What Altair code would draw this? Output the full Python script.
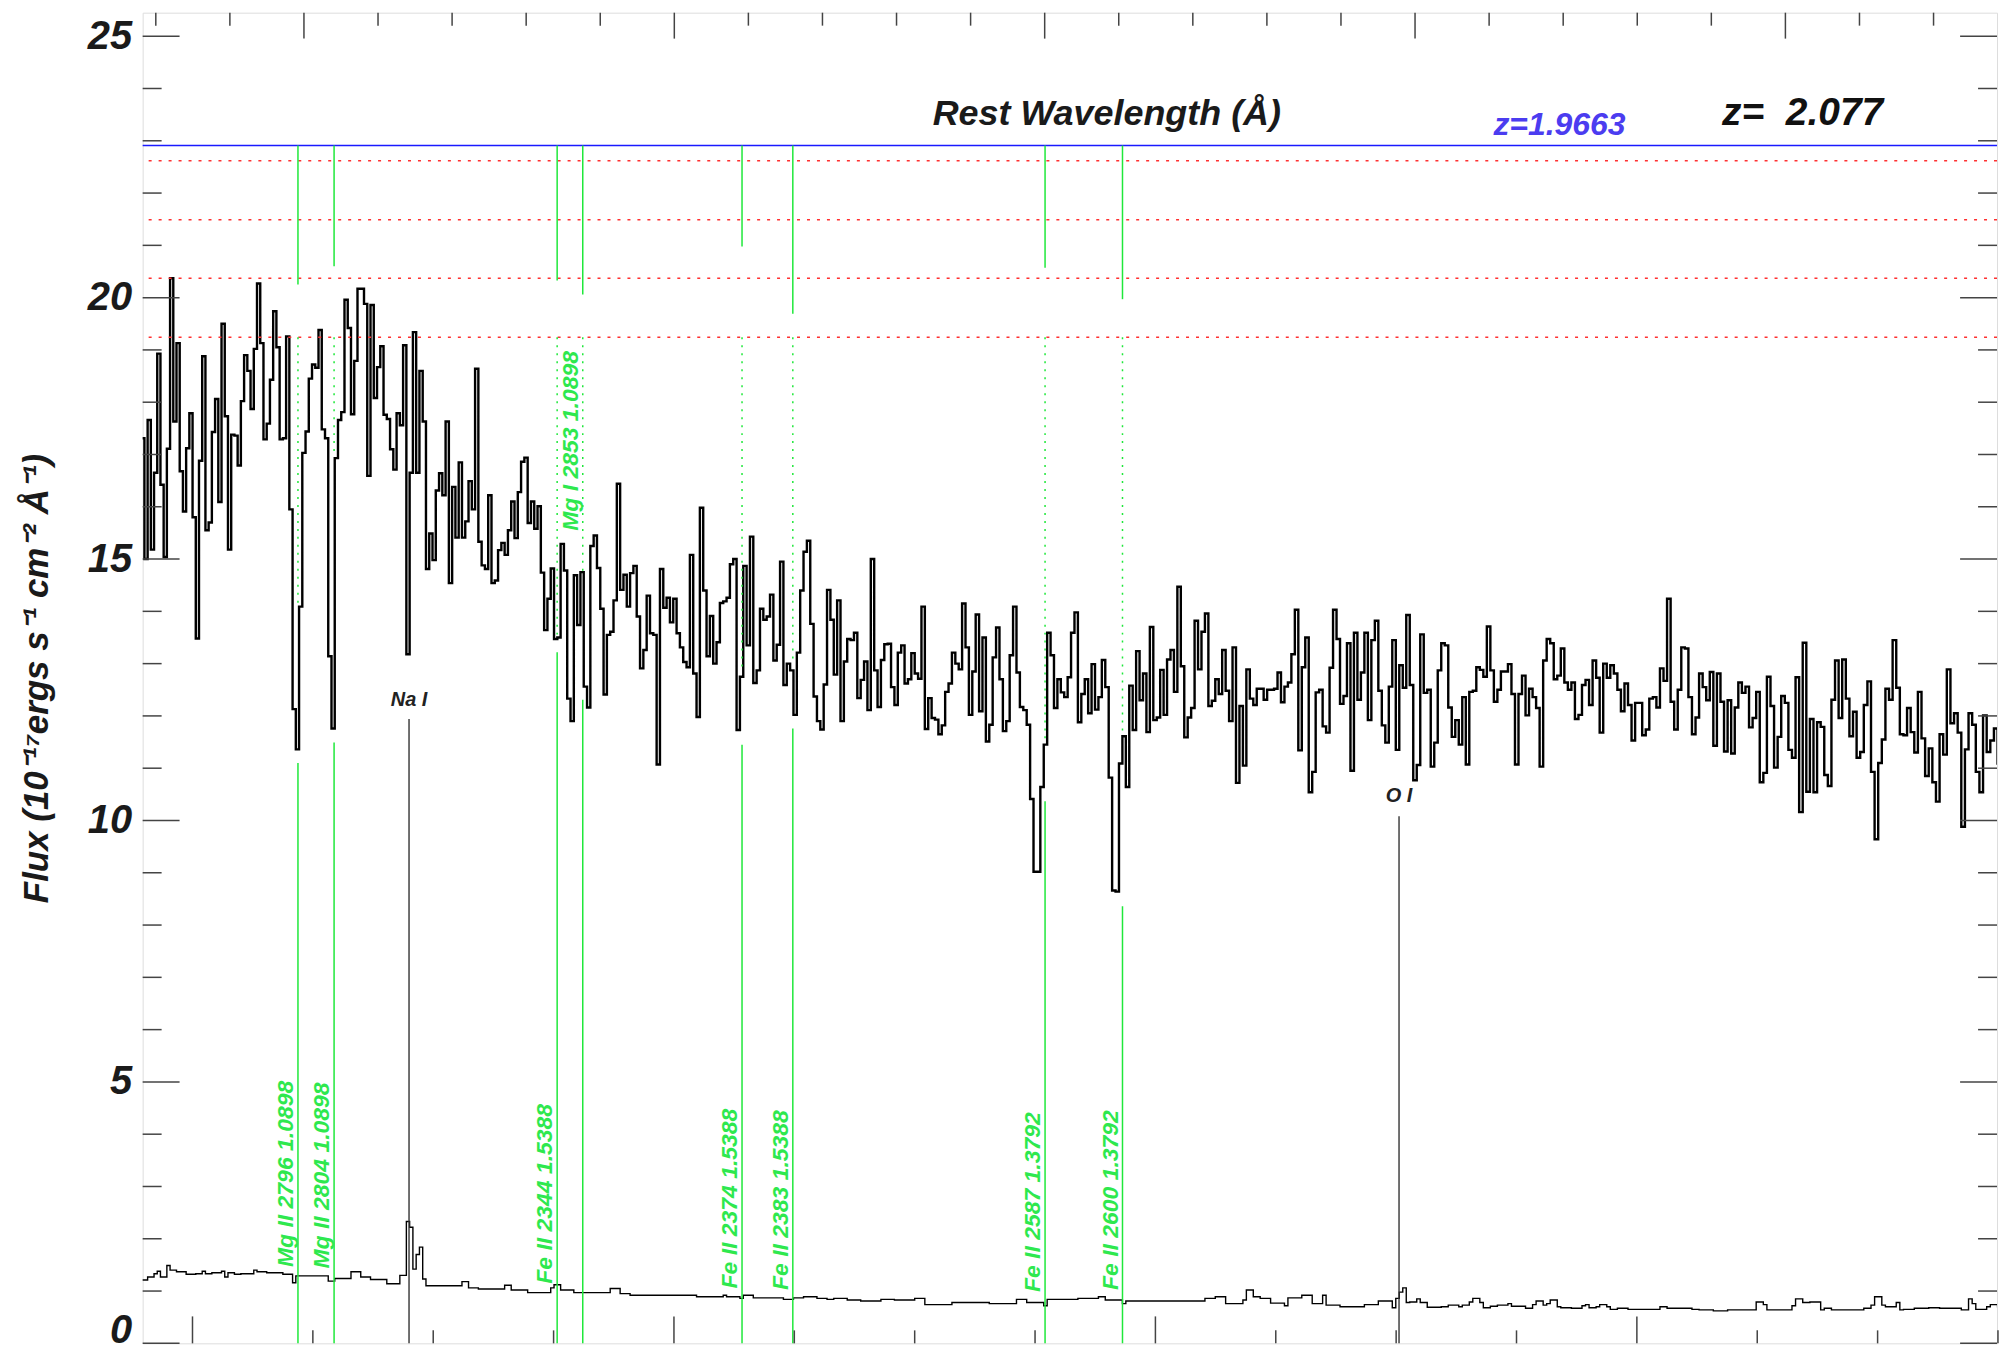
import altair as alt
import pandas as pd
import numpy as np

# ---------------- data ----------------
Z_QSO = 2.077
LOG_START = np.log10(5778.7)   # log10 wavelength of the first spectral pixel
LOG_STEP = 1e-4                # SDSS pixel size in log10(lambda)
X_DOMAIN = [5779.3, 6549.6]    # observed wavelength range of the plot
Y_DOMAIN = [0, 25.45]
W, H = 1859, 1334

flux = [
    17.31, 15.00, 17.66, 15.18, 16.65, 18.93, 16.42, 15.04, 17.11, 20.37,
    17.63, 19.13, 16.68, 15.91, 17.12, 17.79, 15.80, 13.48, 16.88, 18.88,
    15.55, 15.70, 17.43, 18.06, 16.09, 19.50, 17.73, 15.18, 17.38, 17.36,
    16.79, 18.02, 18.90, 18.60, 17.87, 19.02, 20.27, 19.13, 17.29, 17.59,
    18.43, 19.74, 19.05, 17.29, 17.31, 19.26, 15.95, 12.13, 11.36, 14.09,
    17.03, 17.44, 18.45, 18.72, 18.66, 19.38, 17.48, 17.31, 13.14, 11.76,
    16.93, 17.66, 17.81, 19.96, 19.42, 17.77, 18.79, 20.17, 20.17, 19.88,
    16.59, 19.86, 18.08, 18.67, 19.07, 17.76, 17.68, 17.10, 16.71, 17.79,
    17.56, 19.09, 13.18, 16.65, 19.34, 16.65, 18.60, 17.63, 14.81, 15.49,
    14.98, 16.31, 16.64, 16.22, 17.63, 14.54, 16.38,
    15.41, 16.85, 15.41, 15.72, 16.49, 15.95, 18.64, 15.33, 14.88, 14.81,
    16.22, 14.54, 14.59, 15.17, 15.31, 15.08, 15.55, 16.10, 15.40, 16.28,
    16.86, 16.94, 15.69, 16.10, 15.58, 16.01, 14.74, 13.64, 14.24, 14.82,
    13.47, 13.50, 15.29, 14.78, 12.33, 11.90, 14.69, 13.74, 14.75, 12.56,
    12.16, 15.25, 15.45, 14.83, 14.05, 12.41, 13.55, 13.61, 14.21, 16.44,
    14.41, 14.70, 14.09, 14.73, 14.87, 13.90, 12.91, 13.26, 14.30, 13.58,
    13.55, 11.07, 14.81, 14.07, 14.26, 13.79, 14.24, 13.58, 13.31, 13.03,
    12.93, 15.08, 12.81, 11.98, 15.98, 14.40, 13.14, 13.91, 13.00, 13.41,
    14.16, 14.19, 14.26, 14.90, 15.00, 11.73, 12.75, 14.87, 13.35, 15.43,
    12.63, 12.87, 14.05,
    13.84, 13.90, 14.32, 13.06, 13.36, 14.95, 12.59, 13.00, 12.87, 12.02,
    13.21, 14.40, 15.14, 15.35, 13.76, 12.37, 11.90, 11.74, 12.60, 14.41,
    13.84, 12.79, 14.21, 11.90, 13.04, 13.47, 13.45, 13.59, 12.34, 12.69,
    13.04, 12.11, 15.00, 12.87, 12.17, 13.07, 13.37, 13.38, 12.55, 12.21,
    13.21, 13.35, 12.62, 12.70, 13.20, 12.81, 12.71, 14.09, 11.75, 12.34,
    11.96, 11.93, 11.65, 11.82, 12.46, 12.62, 13.21, 13.00, 12.89, 14.15,
    13.31, 12.02, 12.85, 13.94, 12.09, 13.50, 11.51, 11.83, 13.12, 13.69,
    12.70, 11.71, 11.90, 13.16, 14.09, 12.83, 12.17, 12.11, 11.83, 10.41,
    9.02, 9.02, 10.64, 11.45, 13.59, 13.16, 12.15, 12.70, 12.45, 12.36,
    12.74, 13.59,
    13.98, 11.88, 12.42, 12.70, 12.05, 12.99, 12.12, 12.36, 13.07, 12.55,
    10.82, 8.66, 8.64, 11.09, 11.61, 10.64, 12.58, 11.73, 13.24, 12.30,
    12.81, 11.69, 13.70, 11.92, 11.97, 12.88, 12.02, 13.08, 13.26, 12.46,
    14.47, 12.95, 11.59, 11.97, 12.15, 13.82, 12.89, 13.61, 13.96, 12.19,
    12.29, 12.70, 12.42, 13.26, 12.48, 11.90, 13.31, 10.72, 12.19, 11.05,
    12.89, 12.33, 12.21, 12.52, 12.52, 12.31, 12.50, 12.50, 12.52, 12.83,
    12.26, 12.56, 12.64, 13.18, 14.03, 11.34, 12.93, 13.50, 10.54, 10.93,
    12.45, 12.50, 11.80, 11.68, 12.92, 14.03, 13.47, 12.23, 12.38, 13.39,
    10.95, 13.59, 12.31, 12.83, 13.59, 11.92, 13.45, 13.82, 12.48, 11.82,
    11.49, 12.56, 13.45, 11.35, 12.97, 12.54, 13.93, 12.59, 10.77, 11.06,
    13.56, 12.44, 12.50, 11.03, 11.49, 12.87, 13.39, 13.35, 12.16, 11.60,
    11.92, 11.45, 12.36, 11.07, 12.46, 12.48, 12.93, 12.88, 12.75, 13.71,
    12.87, 12.27, 12.50, 12.85, 12.85, 12.99, 12.42, 11.07, 12.42, 12.77,
    12.01, 12.52, 12.36, 12.15, 11.03, 13.06, 13.47, 13.39, 12.70, 12.77,
    13.29, 12.64, 12.50, 12.64, 11.94, 12.02, 12.59, 12.69, 12.21, 13.06,
    12.73, 11.68, 13.00, 12.73, 12.97, 12.81, 12.50, 12.09, 12.62, 12.21,
    11.53, 12.25, 12.25, 11.63, 11.74, 12.33, 12.36, 12.16, 12.91, 12.67,
    14.24, 12.27, 11.74, 12.50, 13.31, 13.29, 12.36, 11.65,
    11.97, 12.81, 12.55, 12.30, 12.84, 11.43, 12.81, 12.27, 11.32, 12.30,
    11.28, 12.16, 12.64, 12.44, 12.56, 11.78, 11.96, 12.46, 10.73, 10.91,
    12.75, 12.19, 11.01, 11.60, 12.38, 12.25, 11.35, 11.20, 12.74, 10.16,
    13.40, 10.55, 11.94, 10.54, 11.88, 11.79, 10.87, 10.66, 12.31, 13.06,
    11.96, 13.08, 12.33, 11.61, 12.08, 11.20, 11.31, 12.21, 12.66, 10.93,
    9.64, 11.10, 11.55, 12.52, 12.31, 13.45, 12.54, 11.65, 11.63, 12.15,
    11.69, 11.30, 12.46, 11.57, 10.85, 11.38, 10.73, 10.36, 11.65, 11.26,
    12.89, 11.86, 12.05, 11.68, 9.88, 11.36, 12.05, 11.83, 10.93, 10.54,
    12.01, 11.31, 11.53, 11.76, 11.09,
]

error = [
    1.21, 1.21, 1.27, 1.27, 1.33, 1.38, 1.27, 1.27, 1.49, 1.40, 1.40, 1.37, 1.37, 1.37, 1.32, 1.32, 1.32, 1.33, 1.33, 1.38,
    1.33, 1.33, 1.35, 1.35, 1.35, 1.38, 1.27, 1.35, 1.35, 1.32, 1.32, 1.33, 1.33, 1.33, 1.33, 1.40, 1.37, 1.37, 1.37, 1.35,
    1.35, 1.35, 1.35, 1.35, 1.32, 1.32, 1.32, 1.16, 1.29, 1.29, 1.29, 1.29, 1.29, 1.29, 1.29, 1.29, 1.29, 1.29, 1.19, 1.19,
    1.24, 1.24, 1.24, 1.24, 1.24, 1.37, 1.37, 1.37, 1.27, 1.27, 1.27, 1.22, 1.22, 1.22, 1.22, 1.22, 1.14, 1.14, 1.14, 1.14,
    1.30, 1.30, 2.33, 2.22, 1.42, 1.70, 1.84, 1.23, 1.10, 1.10, 1.10, 1.10, 1.10, 1.10, 1.10, 1.10, 1.10, 1.10, 1.10, 1.18,
    1.18, 1.06, 1.06, 1.06, 1.04, 1.04, 1.04, 1.04, 1.04, 1.04, 1.04, 1.04, 1.11, 1.11, 1.02, 1.02, 1.02, 1.02, 1.02, 0.97,
    0.97, 0.97, 0.97, 0.97, 0.97, 0.97, 1.06, 1.12, 1.12, 1.02, 1.02, 1.02, 1.02, 0.97, 0.97, 0.97, 0.97, 0.97, 0.97, 0.97,
    0.97, 0.97, 0.97, 0.97, 1.05, 1.05, 1.05, 0.95, 0.95, 0.95, 0.92, 0.92, 0.92, 0.92, 0.92, 0.92, 0.92, 0.92, 0.92, 0.92,
    0.92, 0.92, 0.92, 0.92, 0.92, 0.92, 0.92, 0.92, 0.92, 0.92, 0.89, 0.89, 0.89, 0.89, 0.89, 0.89, 0.89, 0.89, 0.92, 0.89,
    0.89, 0.89, 0.89, 0.86, 0.92, 0.92, 0.92, 0.87, 0.87, 0.87, 0.87, 0.87, 0.87, 0.87, 0.87, 0.87, 0.84, 0.84, 0.84, 0.87,
    0.87, 0.87, 0.89, 0.89, 0.89, 0.89, 0.86, 0.86, 0.86, 0.84, 0.84, 0.86, 0.86, 0.86, 0.86, 0.83, 0.83, 0.83, 0.83, 0.81,
    0.81, 0.81, 0.81, 0.81, 0.81, 0.84, 0.84, 0.84, 0.84, 0.83, 0.83, 0.83, 0.83, 0.83, 0.83, 0.86, 0.86, 0.86, 0.74, 0.74,
    0.74, 0.74, 0.74, 0.74, 0.74, 0.74, 0.78, 0.78, 0.78, 0.78, 0.78, 0.78, 0.78, 0.78, 0.78, 0.78, 0.78, 0.76, 0.76, 0.76,
    0.76, 0.76, 0.76, 0.76, 0.76, 0.84, 0.84, 0.84, 0.78, 0.78, 0.78, 0.78, 0.78, 0.72, 0.84, 0.84, 0.84, 0.84, 0.84, 0.84,
    0.84, 0.84, 0.84, 0.86, 0.86, 0.86, 0.86, 0.86, 0.86, 0.89, 0.89, 0.83, 0.83, 0.83, 0.83, 0.83, 0.76, 0.81, 0.81, 0.81,
    0.81, 0.81, 0.81, 0.81, 0.81, 0.81, 0.81, 0.81, 0.81, 0.81, 0.81, 0.81, 0.81, 0.81, 0.81, 0.81, 0.81, 0.81, 0.81, 0.81,
    0.86, 0.86, 0.86, 0.89, 0.89, 0.89, 0.76, 0.76, 0.76, 0.76, 0.76, 0.83, 1.02, 1.02, 0.89, 0.89, 0.86, 0.86, 0.86, 0.77,
    0.77, 0.77, 0.77, 0.72, 0.87, 0.87, 0.87, 0.87, 0.92, 0.92, 0.92, 0.76, 0.76, 0.76, 0.92, 0.73, 0.73, 0.73, 0.73, 0.70,
    0.70, 0.70, 0.70, 0.70, 0.70, 0.70, 0.74, 0.74, 0.74, 0.74, 0.81, 0.81, 0.81, 0.81, 0.68, 0.86, 0.98, 1.06, 0.78, 0.79,
    0.79, 0.85, 0.78, 0.78, 0.69, 0.69, 0.69, 0.69, 0.70, 0.70, 0.73, 0.73, 0.73, 0.70, 0.73, 0.73, 0.79, 0.86, 0.86, 0.78,
    0.68, 0.68, 0.71, 0.71, 0.73, 0.73, 0.73, 0.76, 0.71, 0.71, 0.71, 0.71, 0.67, 0.67, 0.74, 0.81, 0.81, 0.73, 0.76, 0.83,
    0.83, 0.70, 0.68, 0.68, 0.68, 0.67, 0.67, 0.67, 0.72, 0.74, 0.68, 0.68, 0.70, 0.74, 0.74, 0.70, 0.65, 0.65, 0.67, 0.67,
    0.67, 0.65, 0.65, 0.65, 0.65, 0.65, 0.65, 0.65, 0.65, 0.65, 0.70, 0.70, 0.67, 0.67, 0.67, 0.67, 0.67, 0.67, 0.67, 0.65,
    0.65, 0.64, 0.64, 0.64, 0.64, 0.62, 0.62, 0.62, 0.62, 0.64, 0.64, 0.64, 0.64, 0.64, 0.64, 0.64, 0.64, 0.79, 0.79, 0.74,
    0.64, 0.64, 0.64, 0.64, 0.64, 0.64, 0.64, 0.72, 0.85, 0.85, 0.78, 0.78, 0.79, 0.79, 0.79, 0.64, 0.67, 0.67, 0.64, 0.64,
    0.64, 0.64, 0.64, 0.64, 0.64, 0.64, 0.64, 0.67, 0.67, 0.73, 0.89, 0.89, 0.73, 0.70, 0.70, 0.70, 0.78, 0.64, 0.65, 0.65,
    0.65, 0.67, 0.67, 0.67, 0.67, 0.68, 0.68, 0.68, 0.67, 0.67, 0.67, 0.67, 0.67, 0.67, 0.64, 0.64, 0.85, 0.76, 0.65, 0.65,
    0.65, 0.70, 0.74, 0.74, 0.70,
]

# intervening absorbers
abs_ion = ["Mg II", "Mg II", "Fe II", "Mg I", "Fe II", "Fe II", "Fe II", "Fe II"]
abs_tag = ["2796", "2804", "2344", "2853", "2374", "2383", "2587", "2600"]
abs_rest = [2796.35, 2803.53, 2344.21, 2852.96, 2374.46, 2382.77, 2586.65, 2600.17]
abs_z = [1.0898, 1.0898, 1.5388, 1.0898, 1.5388, 1.5388, 1.3792, 1.3792]
abs_top_end = [20.25, 20.60, 20.33, 20.06, 20.98, 19.69, 20.57, 19.97]
abs_dot_end = [14.13, 16.98, 13.51, 14.75, 12.89, 13.10, 11.49, 11.69]
abs_low_start = [11.10, 11.49, 13.22, 12.31, 11.45, 11.76, 10.37, 8.36]
abs_label_y = [1.46, 1.43, 1.14, 15.54, 1.05, 1.02, 0.98, 1.02]

SYSTEM_Y = 22.91                      # blue system line
ROW_Y = [22.62, 21.49, 20.37, 19.24]  # red dotted rows
DOT_START = 19.24

sky_name = ["Na I", "O I"]
sky_wave = [5889.95, 6301.2]
sky_top = [11.94, 10.08]
sky_label_y = [12.31, 10.47]

rest_ticks = list(range(1880, 2130, 10))
obs_ticks = list(range(5800, 6551, 50))
y_ticks = list(range(0, 26))

# ---------------- tables ----------------
def step_frame(vals):
    n = len(vals)
    wave = 10 ** (LOG_START + LOG_STEP * np.arange(n + 1))
    return pd.DataFrame({"wave": wave, "v": list(vals) + [vals[-1]]})

spec = step_frame(flux)
err = step_frame(error)

lines = pd.DataFrame({
    "obs": [r * (1 + z) for r, z in zip(abs_rest, abs_z)],
    "top_hi": SYSTEM_Y,
    "top_lo": abs_top_end,
    "dot_hi": DOT_START,
    "dot_lo": abs_dot_end,
    "low_hi": abs_low_start,
    "base": 0.0,
    "label_y": abs_label_y,
    "label": [f"{i} {t} {z:.4f}" for i, t, z in zip(abs_ion, abs_tag, abs_z)],
})
sky = pd.DataFrame({"wave": sky_wave, "top": sky_top, "base": 0.0,
                    "ly": sky_label_y, "name": sky_name})
rows = pd.DataFrame({"y": ROW_Y})
sysline = pd.DataFrame({"y": [SYSTEM_Y]})

top_t = pd.DataFrame({"rest": rest_ticks})
top_t["obs"] = top_t["rest"] * (1 + Z_QSO)
top_t = top_t[(top_t["obs"] > X_DOMAIN[0]) & (top_t["obs"] < X_DOMAIN[1])]
top_major = top_t[top_t["rest"] % 50 == 0]
top_minor = top_t[top_t["rest"] % 50 != 0]
bot_t = pd.DataFrame({"obs": obs_ticks})
bot_major = bot_t[bot_t["obs"] % 200 == 0]
bot_minor = bot_t[bot_t["obs"] % 200 != 0]
yt = pd.DataFrame({"y": y_ticks})
y_major = yt[yt["y"] % 5 == 0]
y_minor = yt[yt["y"] % 5 != 0]

# ---------------- style ----------------
FONT = "Liberation Sans"
GREEN = "#1fe83a"
GREEN_TXT = "#2ee84e"
TICK = "#444444"
xs = alt.Scale(domain=X_DOMAIN, nice=False, zero=False)
ys = alt.Scale(domain=Y_DOMAIN, nice=False, zero=False)

yaxis = alt.Axis(
    values=[0, 5, 10, 15, 20, 25], ticks=False, domain=False, grid=False,
    labelFont=FONT, labelFontSize=40, labelFontWeight="bold", labelFontStyle="italic",
    labelColor="#1a1a1a", labelPadding=11, labelFlush=True, labelFlushOffset=7,
    title="Flux (10⁻¹⁷ergs s⁻¹ cm⁻² Å⁻¹)", titleFont=FONT, titleFontSize=35,
    titleFontWeight="bold", titleFontStyle="italic", titleColor="#1a1a1a",
    titlePadding=33,
)

def X(f):
    return alt.X(f, type="quantitative", scale=xs, axis=None)

def Y(f):
    return alt.Y(f, type="quantitative", scale=ys, axis=yaxis)

spec_l = alt.Chart(spec).mark_line(interpolate="step-after", color="black",
                                   strokeWidth=2.4, clip=True).encode(
    x=X("wave"), y=Y("v"))
err_l = alt.Chart(err).mark_line(interpolate="step-after", color="black",
                                 strokeWidth=1.4, clip=True).encode(
    x=X("wave"), y=Y("v"))

blue_l = alt.Chart(sysline).mark_rule(color="#1a1aff", strokeWidth=1.6).encode(y=Y("y"))
red_l = alt.Chart(rows).mark_rule(color="#ff3030", strokeWidth=1.5,
                                  strokeDash=[3, 7]).encode(y=Y("y"))

g_top = alt.Chart(lines).mark_rule(color=GREEN, strokeWidth=1.5).encode(
    x=X("obs"), y=Y("top_hi"), y2="top_lo")
g_dot = alt.Chart(lines).mark_rule(color=GREEN, strokeWidth=1.5,
                                   strokeDash=[2, 6]).encode(
    x=X("obs"), y=Y("dot_hi"), y2="dot_lo")
g_low = alt.Chart(lines).mark_rule(color=GREEN, strokeWidth=1.5).encode(
    x=X("obs"), y=Y("low_hi"), y2="base")
g_txt = alt.Chart(lines).mark_text(
    angle=270, align="left", baseline="bottom", font=FONT, fontSize=23,
    fontWeight="bold", fontStyle="italic", color=GREEN_TXT).encode(
    x=X("obs"), y=Y("label_y"), text="label")

sky_r = alt.Chart(sky).mark_rule(color="#333333", strokeWidth=1.4).encode(
    x=X("wave"), y=Y("top"), y2="base")
sky_t = alt.Chart(sky).mark_text(
    align="center", baseline="middle", font=FONT, fontSize=20,
    fontWeight="bold", fontStyle="italic", color="#222222").encode(
    x=X("wave"), y=Y("ly"), text="name")

one = pd.DataFrame({"k": [0]})
def note(x, y, txt, size, color, align):
    return alt.Chart(one).mark_text(
        align=align, baseline="alphabetic", font=FONT, fontSize=size,
        fontWeight="bold", fontStyle="italic", color=color).encode(
        x=alt.X(datum=x, type="quantitative", scale=xs, axis=None),
        y=alt.Y(datum=y, type="quantitative", scale=ys, axis=yaxis),
        text=alt.value(txt))

t_rest = note(6179.8, 23.30, "Rest Wavelength (Å)", 36, "#1a1a1a", "center")
t_z1 = note(6340.4, 23.11, "z=1.9663", 32, "#4b3cf0", "left")
t_z2 = note(6435.4, 23.30, "z=\u00a0\u00a02.077", 39, "#111111", "left")

def xtick(df, top, length):
    if top:
        return alt.Chart(df).mark_rule(color=TICK, strokeWidth=1.5).encode(
            x=X("obs"), y=alt.value(0), y2=alt.value(length))
    return alt.Chart(df).mark_rule(color=TICK, strokeWidth=1.5).encode(
        x=X("obs"), y=alt.value(H), y2=alt.value(H - length))

def ytick(df, left, length):
    if left:
        return alt.Chart(df).mark_rule(color=TICK, strokeWidth=1.5).encode(
            y=Y("y"), x=alt.value(0), x2=alt.value(length))
    return alt.Chart(df).mark_rule(color=TICK, strokeWidth=1.5).encode(
        y=Y("y"), x=alt.value(W), x2=alt.value(W - length))

ticks = [xtick(top_major, True, 26), xtick(top_minor, True, 13),
         xtick(bot_major, False, 27), xtick(bot_minor, False, 13),
         ytick(y_major, True, 37), ytick(y_minor, True, 19),
         ytick(y_major, False, 37), ytick(y_minor, False, 19)]

chart = alt.layer(
    spec_l, err_l, red_l, blue_l, g_top, g_dot, g_low, g_txt, sky_r, sky_t,
    t_rest, t_z1, t_z2, *ticks
).properties(
    width=W, height=H,
    autosize=alt.AutoSizeParams(type="none"),
    padding={"left": 135, "top": 3, "right": 2, "bottom": 8},
).configure_view(stroke="#333333", strokeWidth=2).configure(background="white")

chart.save("out.html", embed_options={"renderer": "svg", "actions": False})
